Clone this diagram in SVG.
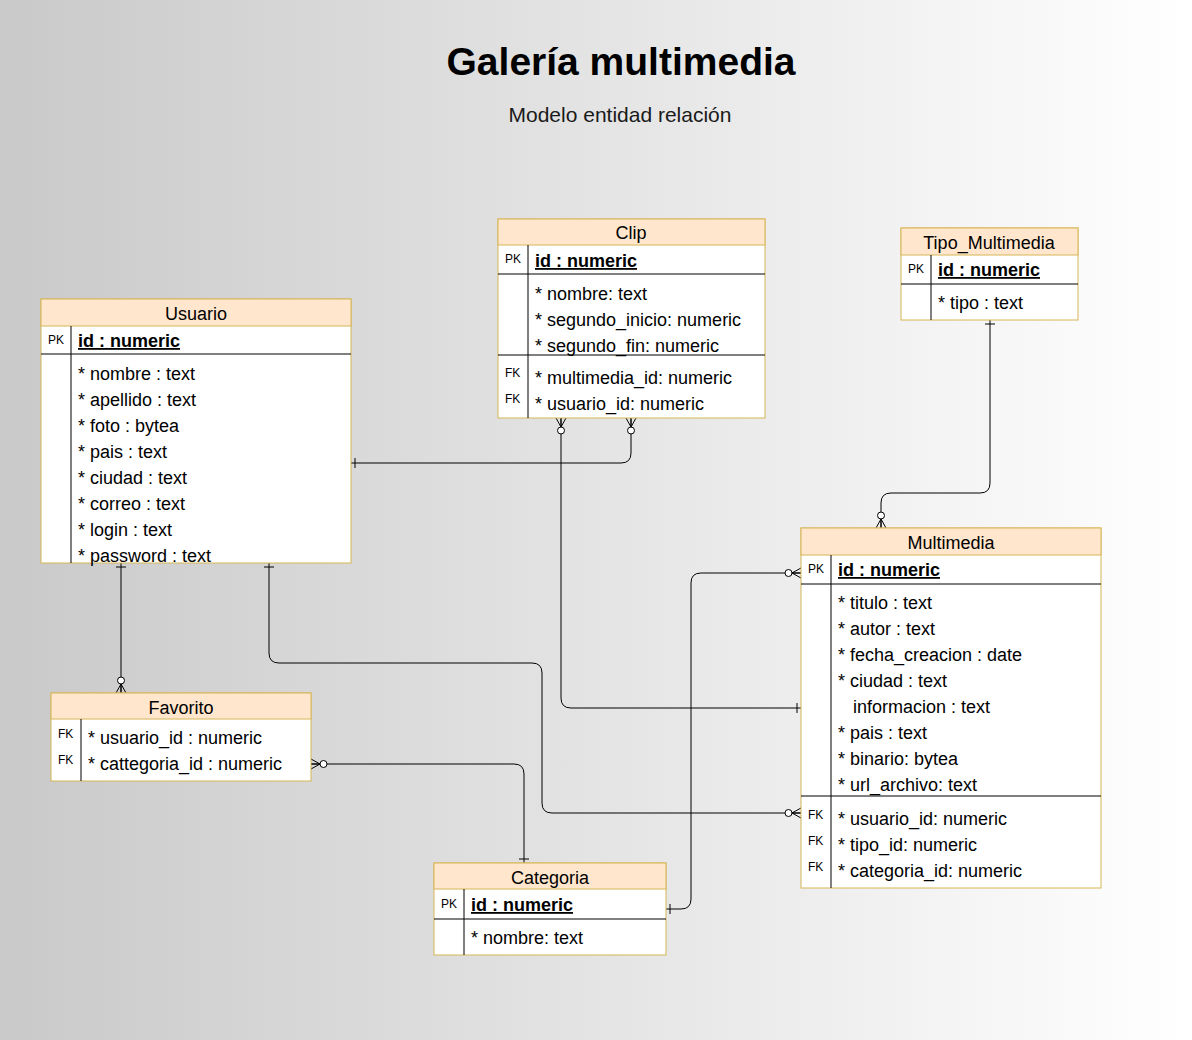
<svg xmlns="http://www.w3.org/2000/svg" width="1192" height="1040" viewBox="0 0 1192 1040">
<defs>
<linearGradient id="bg" x1="0" y1="0" x2="1" y2="0">
<stop offset="0" stop-color="#c9c9c9"/>
<stop offset="1" stop-color="#ffffff"/>
</linearGradient>
<marker id="zm" markerUnits="userSpaceOnUse" viewBox="-20 -8 22 16" refX="0" refY="0" markerWidth="22" markerHeight="16" orient="auto-start-reverse" overflow="visible">
<path d="M-9,0 L0,-5 M-9,0 L0,5 M-9,0 L0,0" fill="none" stroke="#000" stroke-width="1"/>
<circle cx="-12.5" cy="0" r="3.5" fill="#fff" stroke="#000" stroke-width="1"/>
</marker>
<marker id="one" markerUnits="userSpaceOnUse" viewBox="-10 -8 12 16" refX="0" refY="0" markerWidth="12" markerHeight="16" orient="auto-start-reverse" overflow="visible">
<path d="M-4,-5 L-4,5" fill="none" stroke="#000" stroke-width="1"/>
</marker>
</defs>
<style>
text{font-family:"Liberation Sans",Arial,sans-serif;fill:#000}
.hd{fill:#ffe6cc;stroke:#d6b656;stroke-width:1}
.bx{fill:#fff;stroke:#d6b656;stroke-width:1}
.ln{stroke:#000;stroke-width:1;fill:none}
.ht{font-size:18px;text-anchor:middle}
.at{font-size:18px}
.pk{font-size:18px;font-weight:bold;text-decoration:underline}
.kl{font-size:12px}
.cn{fill:none;stroke:#000;stroke-width:1}
</style>
<rect width="1192" height="1040" fill="url(#bg)"/>
<text x="621" y="75" style="font-size:39px;font-weight:bold;text-anchor:middle">Galería multimedia</text>
<text x="620" y="122" style="font-size:21px;text-anchor:middle;fill:#1a1a1a">Modelo entidad relación</text>

<g id="connectors">
<path class="cn" d="M631,418 V453 Q631,463 621,463 H351" marker-start="url(#zm)" marker-end="url(#one)"/>
<path class="cn" d="M561,418 V698 Q561,708 571,708 H801" marker-start="url(#zm)" marker-end="url(#one)"/>
<path class="cn" d="M990,320 V483 Q990,493 980,493 H891 Q881,493 881,503 V528" marker-start="url(#one)" marker-end="url(#zm)"/>
<path class="cn" d="M121,563 V693" marker-start="url(#one)" marker-end="url(#zm)"/>
<path class="cn" d="M269,563 V653 Q269,663 279,663 H532 Q542,663 542,673 V803 Q542,813 552,813 H801" marker-start="url(#one)" marker-end="url(#zm)"/>
<path class="cn" d="M311,764 H514 Q524,764 524,774 V863" marker-start="url(#zm)" marker-end="url(#one)"/>
<path class="cn" d="M666,909 H681 Q691,909 691,899 V583 Q691,573 701,573 H801" marker-start="url(#one)" marker-end="url(#zm)"/>
</g>

<g id="clip">
<rect class="bx" x="498" y="219" width="267" height="199"/>
<rect class="hd" x="498" y="219" width="267" height="26"/>
<line class="ln" x1="498" y1="274" x2="765" y2="274"/>
<line class="ln" x1="498" y1="355" x2="765" y2="355"/>
<line class="ln" x1="528" y1="245" x2="528" y2="418"/>
<text class="ht" x="631" y="239">Clip</text>
<text class="kl" x="505" y="263">PK</text>
<text class="pk" x="535" y="267">id : numeric</text>
<text class="at" x="535" y="300">* nombre: text</text>
<text class="at" x="535" y="326">* segundo_inicio: numeric</text>
<text class="at" x="535" y="352">* segundo_fin: numeric</text>
<text class="kl" x="505" y="377">FK</text>
<text class="kl" x="505" y="403">FK</text>
<text class="at" x="535" y="384">* multimedia_id: numeric</text>
<text class="at" x="535" y="410">* usuario_id: numeric</text>
</g>

<g id="tipo_multimedia">
<rect class="bx" x="901" y="228" width="177" height="92"/>
<rect class="hd" x="901" y="228" width="177" height="27"/>
<line class="ln" x1="901" y1="284" x2="1078" y2="284"/>
<line class="ln" x1="931" y1="255" x2="931" y2="320"/>
<text class="ht" x="989" y="249">Tipo_Multimedia</text>
<text class="kl" x="908" y="273">PK</text>
<text class="pk" x="938" y="276">id : numeric</text>
<text class="at" x="938" y="309">* tipo : text</text>
</g>

<g id="usuario">
<rect class="bx" x="41" y="299" width="310" height="264"/>
<rect class="hd" x="41" y="299" width="310" height="27"/>
<line class="ln" x1="41" y1="354" x2="351" y2="354"/>
<line class="ln" x1="71" y1="326" x2="71" y2="563"/>
<text class="ht" x="196" y="320">Usuario</text>
<text class="kl" x="48" y="344">PK</text>
<text class="pk" x="78" y="347">id : numeric</text>
<text class="at" x="78" y="380">* nombre : text</text>
<text class="at" x="78" y="406">* apellido : text</text>
<text class="at" x="78" y="432">* foto : bytea</text>
<text class="at" x="78" y="458">* pais : text</text>
<text class="at" x="78" y="484">* ciudad : text</text>
<text class="at" x="78" y="510">* correo : text</text>
<text class="at" x="78" y="536">* login : text</text>
<text class="at" x="78" y="562">* password : text</text>
</g>

<g id="multimedia">
<rect class="bx" x="801" y="528" width="300" height="360"/>
<rect class="hd" x="801" y="528" width="300" height="27"/>
<line class="ln" x1="801" y1="584" x2="1101" y2="584"/>
<line class="ln" x1="801" y1="796" x2="1101" y2="796"/>
<line class="ln" x1="831" y1="555" x2="831" y2="888"/>
<text class="ht" x="951" y="549">Multimedia</text>
<text class="kl" x="808" y="573">PK</text>
<text class="pk" x="838" y="576">id : numeric</text>
<text class="at" x="838" y="609">* titulo : text</text>
<text class="at" x="838" y="635">* autor : text</text>
<text class="at" x="838" y="661">* fecha_creacion : date</text>
<text class="at" x="838" y="687">* ciudad : text</text>
<text class="at" x="853" y="713">informacion : text</text>
<text class="at" x="838" y="739">* pais : text</text>
<text class="at" x="838" y="765">* binario: bytea</text>
<text class="at" x="838" y="791">* url_archivo: text</text>
<text class="kl" x="808" y="819">FK</text>
<text class="kl" x="808" y="845">FK</text>
<text class="kl" x="808" y="871">FK</text>
<text class="at" x="838" y="825">* usuario_id: numeric</text>
<text class="at" x="838" y="851">* tipo_id: numeric</text>
<text class="at" x="838" y="877">* categoria_id: numeric</text>
</g>

<g id="favorito">
<rect class="bx" x="51" y="693" width="260" height="88"/>
<rect class="hd" x="51" y="693" width="260" height="26"/>
<line class="ln" x1="81" y1="719" x2="81" y2="781"/>
<text class="ht" x="181" y="714">Favorito</text>
<text class="kl" x="58" y="738">FK</text>
<text class="kl" x="58" y="764">FK</text>
<text class="at" x="88" y="744">* usuario_id : numeric</text>
<text class="at" x="88" y="770">* cattegoria_id : numeric</text>
</g>

<g id="categoria">
<rect class="bx" x="434" y="863" width="232" height="92"/>
<rect class="hd" x="434" y="863" width="232" height="26"/>
<line class="ln" x1="434" y1="919" x2="666" y2="919"/>
<line class="ln" x1="464" y1="889" x2="464" y2="955"/>
<text class="ht" x="550" y="884">Categoria</text>
<text class="kl" x="441" y="908">PK</text>
<text class="pk" x="471" y="911">id : numeric</text>
<text class="at" x="471" y="944">* nombre: text</text>
</g>
</svg>
